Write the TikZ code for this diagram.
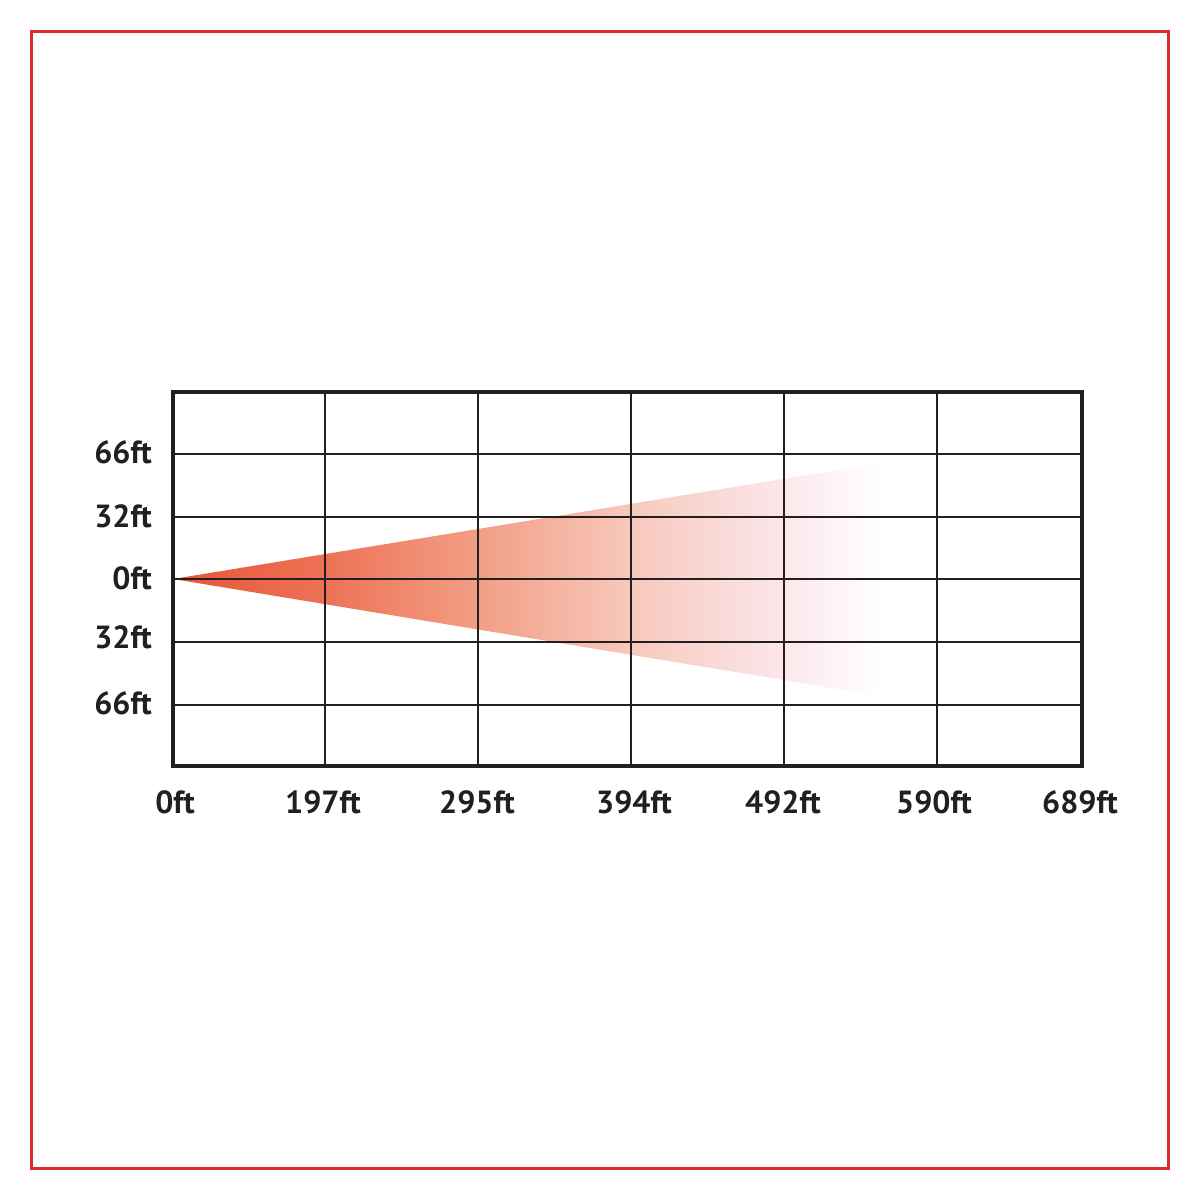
\documentclass[tikz,border=0pt]{standalone}
\usepackage{fontspec}
\setmainfont{PT Sans}
\definecolor{frameRed}{HTML}{DB2A30}
\definecolor{gridInk}{HTML}{231F20}
\definecolor{bA}{HTML}{E8553A}
\definecolor{bB}{HTML}{ED7356}
\definecolor{bC}{HTML}{F29E84}
\definecolor{bD}{HTML}{F7C9BC}
\definecolor{bE}{HTML}{FCE6EA}
\pgfdeclarehorizontalshading{beamshade}{100bp}{color(0bp)=(bA); color(25bp)=(bA); color(36bp)=(bB); color(46.5bp)=(bC); color(57.5bp)=(bD); color(68bp)=(bE); color(75bp)=(white); color(100bp)=(white)}
\tikzset{
  lbl/.style={font=\bfseries\fontsize{32}{34}\selectfont, text=gridInk, inner sep=0pt},
  gridline/.style={draw=gridInk, line width=1.5pt},
}
\begin{document}
\begin{tikzpicture}[x=1pt,y=-1pt]
\useasboundingbox (0,0) rectangle (1200,1200);
\draw[frameRed, line width=3pt] (31.5,31.5) rectangle (1168.5,1168.5);
% beam
\shade[shading=beamshade] (173,579) -- (880,463) -- (880,696) -- cycle;
% grid
\foreach \x in {325,478,631,784,937} \draw[gridline] (\x,392) -- (\x,766);
\foreach \y in {454,517,579,642,705} \draw[gridline] (173,\y) -- (1082,\y);
\draw[gridInk, line width=4pt] (173,392) rectangle (1082,766);
% y labels
\node[lbl, anchor=east] (y1) at (152,452) {66ft};
\node[lbl, anchor=east] (y2) at (152,516) {32ft};
\node[lbl, anchor=east] (y3) at (152,578) {0ft};
\node[lbl, anchor=east] (y4) at (152,637) {32ft};
\node[lbl, anchor=east] (y5) at (152,703) {66ft};
% x labels
\node[lbl] (x0) at (175,802) {0ft};
\node[lbl] (x1) at (323,802) {197ft};
\node[lbl] (x2) at (477,802) {295ft};
\node[lbl] (x3) at (634,802) {394ft};
\node[lbl] (x4) at (783,802) {492ft};
\node[lbl] (x5) at (934,802) {590ft};
\node[lbl] (x6) at (1080,802) {689ft};
\end{tikzpicture}
\end{document}
